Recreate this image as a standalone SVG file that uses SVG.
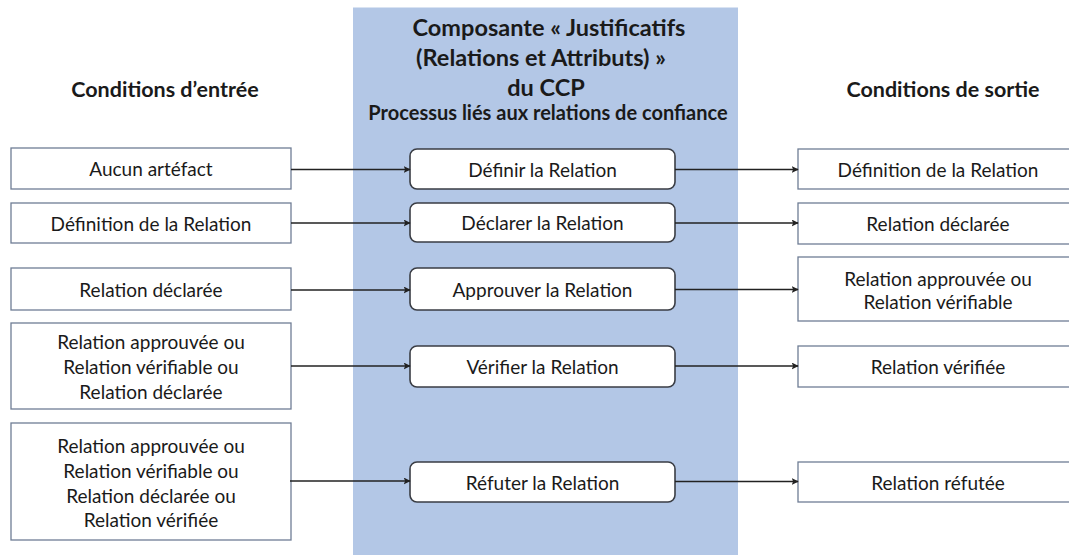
<svg xmlns="http://www.w3.org/2000/svg" width="1069" height="555" viewBox="0 0 1069 555">
<style>
.t{font-family:Lato,"Liberation Sans",sans-serif;fill:#1a1a1a;text-anchor:middle;}
.h{font-weight:bold;font-size:21.5px;}
.c{font-weight:bold;font-size:23.5px;}
.s{font-weight:bold;font-size:20px;}
.b{font-size:19px;dominant-baseline:central;}
.box{fill:#fff;stroke:#6f7d95;stroke-width:1.3;}
.pbox{fill:#fff;stroke:#3a3d44;stroke-width:1.6;}
.conn{stroke:#222;stroke-width:1.4;fill:none;marker-end:url(#ah);}
</style>
<defs>
<marker id="ah" viewBox="0 0 10 10" refX="9" refY="5" markerWidth="7" markerHeight="7" markerUnits="userSpaceOnUse" orient="auto">
<path d="M0,0 L10,5 L0,10 L2,5 z" fill="#222"/>
</marker>
</defs>
<rect width="1069" height="555" fill="#fff"/>
<rect id="panel" x="353" y="7.5" width="385" height="548" fill="#b3c7e6"/>
<g id="titles">
<text class="t h" x="165" y="97">Conditions d’entrée</text>
<text class="t h" x="943" y="97">Conditions de sortie</text>
<text class="t c" x="549" y="36">Composante « Justificatifs</text>
<text class="t c" x="541" y="65.5">(Relations et Attributs) »</text>
<text class="t c" x="546" y="95.5">du CCP</text>
<text class="t s" x="548" y="120">Processus liés aux relations de confiance</text>
</g>
<g id="in1"><rect class="box" x="11" y="148" width="280" height="41"/><text class="t b" x="151" y="168.5">Aucun artéfact</text></g>
<g id="in2"><rect class="box" x="11" y="203" width="280" height="40"/><text class="t b" x="151" y="223">Définition de la Relation</text></g>
<g id="in3"><rect class="box" x="11" y="268" width="280" height="42"/><text class="t b" x="151" y="289.5">Relation déclarée</text></g>
<g id="in4"><rect class="box" x="11" y="323" width="280" height="86"/><text class="t b" x="151" y="341.5">Relation approuvée ou</text><text class="t b" x="151" y="366.5">Relation vérifiable ou</text><text class="t b" x="151" y="391.5">Relation déclarée</text></g>
<g id="in5"><rect class="box" x="11" y="423" width="280" height="117"/><text class="t b" x="151" y="445">Relation approuvée ou</text><text class="t b" x="151" y="470">Relation vérifiable ou</text><text class="t b" x="151" y="495">Relation déclarée ou</text><text class="t b" x="151" y="519.5">Relation vérifiée</text></g>
<g id="p1"><rect class="pbox" x="410" y="149" width="265" height="40" rx="7"/><text class="t b" x="542.5" y="169">Définir la Relation</text></g>
<g id="p2"><rect class="pbox" x="410" y="203" width="265" height="39" rx="7"/><text class="t b" x="542.5" y="222.5">Déclarer la Relation</text></g>
<g id="p3"><rect class="pbox" x="410" y="268" width="265" height="42" rx="7"/><text class="t b" x="542.5" y="289">Approuver la Relation</text></g>
<g id="p4"><rect class="pbox" x="410" y="346" width="265" height="41" rx="7"/><text class="t b" x="542.5" y="366.5">Vérifier la Relation</text></g>
<g id="p5"><rect class="pbox" x="410" y="462" width="265" height="40" rx="7"/><text class="t b" x="542.5" y="482">Réfuter la Relation</text></g>
<g id="out1"><rect class="box" x="798" y="149" width="280" height="40"/><text class="t b" x="938" y="169">Définition de la Relation</text></g>
<g id="out2"><rect class="box" x="798" y="203" width="280" height="41"/><text class="t b" x="938" y="223.5">Relation déclarée</text></g>
<g id="out3"><rect class="box" x="798" y="257" width="280" height="64"/><text class="t b" x="938" y="278.5">Relation approuvée ou</text><text class="t b" x="938" y="301.5">Relation vérifiable</text></g>
<g id="out4"><rect class="box" x="798" y="346" width="280" height="41"/><text class="t b" x="938" y="366.5">Relation vérifiée</text></g>
<g id="out5"><rect class="box" x="798" y="462" width="280" height="40"/><text class="t b" x="938" y="482">Relation réfutée</text></g>
<g id="connectors">
<line class="conn" x1="291" y1="169.5" x2="410" y2="169.5"/>
<line class="conn" x1="291" y1="223" x2="410" y2="223"/>
<line class="conn" x1="291" y1="290" x2="410" y2="290"/>
<line class="conn" x1="291" y1="366" x2="410" y2="366"/>
<line class="conn" x1="290" y1="481" x2="410" y2="481"/>
<line class="conn" x1="675" y1="169.5" x2="798" y2="169.5"/>
<line class="conn" x1="675" y1="223" x2="798" y2="223"/>
<line class="conn" x1="675" y1="289.5" x2="798" y2="289.5"/>
<line class="conn" x1="675" y1="366" x2="798" y2="366"/>
<line class="conn" x1="675" y1="481.5" x2="798" y2="481.5"/>
</g>
</svg>
